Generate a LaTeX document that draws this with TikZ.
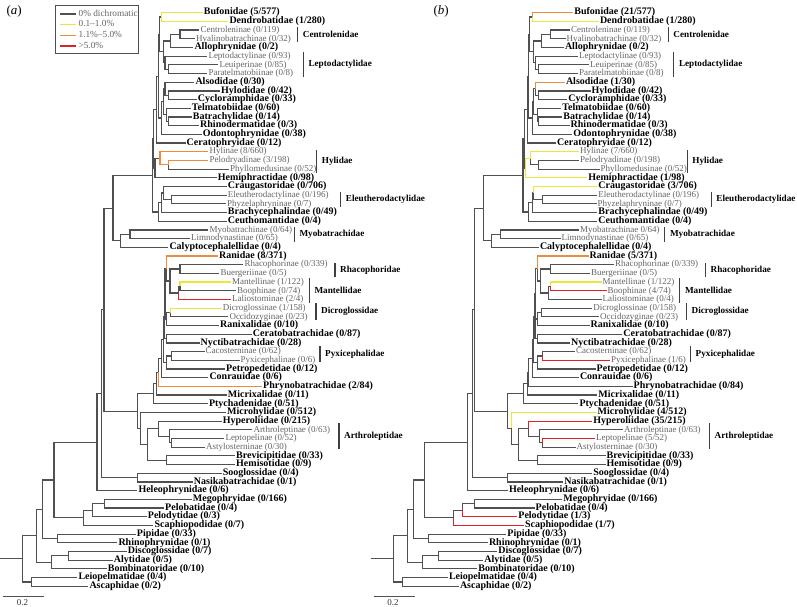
\documentclass[tikz,border=0pt]{standalone}
\usepackage{fontspec}
\setmainfont{Liberation Serif}
\usetikzlibrary{calc}

\definecolor{brgrey}{RGB}{80,80,80}
\definecolor{subgrey}{RGB}{100,100,100}
\definecolor{yel}{RGB}{236,230,60}
\definecolor{org}{RGB}{238,140,60}
\definecolor{rd}{RGB}{222,35,40}

% clade{name}{x}{child}{child}: node halfway between its two children
\newcommand\clade[4]{\path let \p1=(#3), \p2=(#4) in coordinate (#1) at (#2,{0.5*(\y1+\y2)});}

% one panel of the family tree, #1 = a or b
\newcommand\frogtree[1]{%
  % tips
  \foreach \nm/\lx/\st/\lab/\ca/\cb/\tot [count=\i from 0] in {
    bufo/202.7/fam/Bufonidae/5/21/577,
    dendro/228.3/fam/Dendrobatidae/1/1/280,
    centrolen/199.3/sub/Centroleninae/0/0/119,
    hyalino/195/sub/Hyalinobatrachinae/0/0/32,
    alloph/193.3/fam/Allophrynidae/0/0/2,
    leptodac/207.3/sub/Leptodactylinae/0/0/93,
    leuip/218.3/sub/Leuiperinae/0/0/85,
    paratel/207.3/sub/Paratelmatobiinae/0/0/8,
    alsod/194.3/fam/Alsodidae/0/1/30,
    hylod/220/fam/Hylodidae/0/0/42,
    cyclor/196.7/fam/Cycloramphidae/0/0/33,
    telmat/190.7/fam/Telmatobiidae/0/0/60,
    batrach/191.7/fam/Batrachylidae/0/0/14,
    rhinod/199/fam/Rhinodermatidae/0/0/3,
    odonto/201.7/fam/Odontophrynidae/0/0/38,
    cerato/185.5/fam/Ceratophryidae/0/0/12,
    hylin/208.3/sub/Hylinae/8/7/660,
    pelodr/208.3/sub/Pelodryadinae/3/0/198,
    phyllo/229/sub/Phyllomedusinae/0/0/52,
    hemiph/216.7/fam/Hemiphractidae/0/1/98,
    craug/226.7/fam/Craugastoridae/0/3/706,
    eleuth/226.7/sub/Eleutherodactylinae/0/0/196,
    phyzel/226/sub/Phyzelaphryninae/0/0/7,
    brachy/226.7/fam/Brachycephalindae/0/0/49,
    ceuth/226.7/fam/Ceuthomantidae/0/0/4,
    myobat/208.3/sub/Myobatrachinae/0/-1/64,
    limno/190/sub/Limnodynastinae/0/0/65,
    calypto/168.3/fam/Calyptocephalellidae/0/0/4,
    ranid/218/fam/Ranidae/8/5/371,
    rhacoph/243.3/sub/Rhacophorinae/0/0/339,
    buerg/219.3/sub/Buergeriinae/0/0/5,
    mantel/231/sub/Mantellinae/1/1/122,
    booph/236/sub/Boophinae/0/4/74,
    lalios/231/sub/Laliostominae/2/0/4,
    dicro/221.7/sub/Dicroglossinae/1/0/158,
    occid/228.3/sub/Occidozyginae/0/0/23,
    ranix/219/fam/Ranixalidae/0/0/10,
    ceratob/251.7/fam/Ceratobatrachidae/0/0/87,
    nyctib/199.5/fam/Nyctibatrachidae/0/0/28,
    cacost/204.5/sub/Cacosterninae/0/0/62,
    pyxic/239.5/sub/Pyxicephalinae/0/1/6,
    petrop/225/fam/Petropedetidae/0/0/12,
    conra/208.3/fam/Conrauidae/0/0/6,
    phryno/262/fam/Phrynobatrachidae/2/0/84,
    micrix/226.7/fam/Micrixalidae/0/0/11,
    ptych/207.8/fam/Ptychadenidae/0/0/51,
    microh/226/fam/Microhylidae/0/4/512,
    hyperol/221.7/fam/Hyperoliidae/0/35/215,
    arthrol/252.3/sub/Arthroleptinae/0/0/63,
    leptop/224.3/sub/Leptopelinae/0/5/52,
    astyl/205/sub/Astylosterninae/0/0/30,
    brevic/235/fam/Brevicipitidae/0/0/33,
    hemis/235/fam/Hemisotidae/0/0/9,
    soogl/221.7/fam/Sooglossidae/0/0/4,
    nasik/192.7/fam/Nasikabatrachidae/0/0/1,
    heleo/137.3/fam/Heleophrynidae/0/0/6,
    megoph/191.7/fam/Megophryidae/0/0/166,
    pelob/164/fam/Pelobatidae/0/0/4,
    pelod/146.7/fam/Pelodytidae/0/1/3,
    scaph/153.3/fam/Scaphiopodidae/0/1/7,
    pipid/135.7/fam/Pipidae/0/0/33,
    rhinoph/117.3/fam/Rhinophrynidae/0/0/1,
    discog/126.7/fam/Discoglossidae/0/0/7,
    alyt/112.7/fam/Alytidae/0/0/5,
    bombin/106.7/fam/Bombinatoridae/0/0/10,
    leiop/77.3/fam/Leiopelmatidae/0/0/4,
    ascaph/88.3/fam/Ascaphidae/0/0/2}
  \node[\st] (#1-\nm) at (\lx,{12.7+8.69*\i})
    {\lab\ \ifx a#1(\ca\else\ifnum\cb<0 0\else(\cb\fi\fi/\tot)};
  % clades, children before parents
  \foreach \nm/\nx/\kida/\kidb in {
    bd/161.7/bufo/dendro, cen/180/centrolen/hyalino, ca/170.7/cen/alloph,
    lp/168.3/leuip/paratel, lep/165/leptodac/lp, cal/163.3/ca/lep,
    bdcal/159.3/bd/cal, hc/168.3/hylod/cyclor, ahc/165/alsod/hc,
    br/168.3/batrach/rhinod, tbr/166.7/telmat/br, at/163.3/ahc/tbr,
    ato/161.7/at/odonto, u1/158.3/bdcal/ato, u2/156.7/u1/cerato,
    pp/168.3/pelodr/phyllo, hyl/160/hylin/pp, hh/155/hyl/hemiph,
    upper/153.8/u2/hh, ep/171.7/eleuth/phyzel, cep/163.3/craug/ep,
    cepb/161.7/cep/brachy, terr/158.3/cepb/ceuth, core/152.5/upper/terr,
    myo/130/myobat/limno, mc/120.7/myo/calypto, hyloid/113/core/mc,
    rb/180/rhacoph/buerg, mb/180/mantel/booph, mant/178.3/mb/lalios,
    rm/170/rb/mant, rrm/166.7/ranid/rm, dico/170.7/dicro/occid,
    dr/166.7/dico/ranix, rgrp/165/rrm/dr, cn/166.7/ceratob/nyctib,
    na/164.5/rgrp/cn, cp/171.7/cacost/pyxic, pyp/166.7/cp/petrop,
    nb/163.3/na/pyp, nc/161.7/nb/conra, nd/158.3/nc/phryno,
    ne/156.7/nd/micrix, nf/153.3/ne/ptych, la/171.7/leptop/astyl,
    arth/169.3/arthrol/la, ha/158.3/hyperol/arth, bh/166.7/brevic/hemis,
    afro/147.7/ha/bh, ma/140.7/microh/afro, ranoid/137.3/nf/ma,
    hr/104/hyloid/ranoid, sn/137.3/soogl/nasik, hrs/101.7/hr/sn,
    neo/97/hrs/heleo, mpb/104.3/megoph/pelob, mpp/92.3/mpb/pelod,
    pelo/83.3/mpp/scaph, n3/54/neo/pelo, pip/57.7/pipid/rhinoph,
    n2/42.7/n3/pip, da/68.3/discog/alyt, alyto/51.7/da/bombin,
    n1/36.7/n2/alyto, lasc/31.7/leiop/ascaph, root/22.7/n1/lasc}
  {
    \clade{#1-\nm}{\nx}{#1-\kida}{#1-\kidb}
    \draw[br] (#1-\nm) |- (#1-\kida);
    \draw[br] (#1-\nm) |- (#1-\kidb);
  }
  \draw[br] (#1-root) -- ++(-22.7,0);
  % families with subfamilies
  \foreach \bx/\ya/\yb/\lab in {
    297.7/27.3/42.3/Centrolenidae, 303.3/51.7/77.3/Leptodactylidae,
    316.7/150/173/Hylidae, 340.7/191.7/206.7/Eleutherodactylidae,
    294.3/227/241.7/Myobatrachidae, 335/263.3/276.7/Rhacophoridae,
    309.3/278.3/303.3/Mantellidae, 316/303.3/320/Dicroglossidae,
    320/346/361.7/Pyxicephalidae, 339/423.3/449.3/Arthroleptidae}
  {
    \draw[bar] (\bx,\ya) -- (\bx,\yb);
    \node[grp] (#1-\lab) at (\bx+4,{(\ya+\yb)/2}) {\lab};
  }
  % scale
  \coordinate (#1-sc0) at (3,596);
  \coordinate (#1-sc1) at (44.3,596);
  \draw[br, line width=0.9pt] (#1-sc0) -- (#1-sc1);
  \node[anchor=center, text=black!80, font=\fontsize{9}{9}\selectfont] (#1-sclab) at (22.5,603) {0.2};
}

\begin{document}
\begin{tikzpicture}[
  x=1pt, y=-1pt,
  font=\fontsize{10}{11}\selectfont,
  br/.style={draw=brgrey, line width=1.2pt},
  bar/.style={draw=black!75, line width=1.1pt},
  fam/.style={anchor=west, inner xsep=1pt, inner ysep=0pt,
    text height=6.5pt, text depth=2pt, font=\fontsize{10}{11}\selectfont\bfseries},
  sub/.style={anchor=west, inner xsep=1pt, inner ysep=0pt,
    text height=6.5pt, text depth=2pt, text=subgrey, font=\fontsize{9}{11}\selectfont},
  grp/.style={fam, font=\fontsize{9.2}{11}\selectfont\bfseries}
]
\useasboundingbox (0,0) rectangle (797,607);

\frogtree{a}
\foreach \p/\kid/\col in {bd/bufo/yel, bd/dendro/yel, hyl/hylin/org, hyl/pp/org,
  pp/pelodr/org, rrm/ranid/org, mb/mantel/yel, mant/lalios/rd,
  dico/dicro/yel, nd/phryno/org}
  \draw[br, draw=\col] (a-\p) |- (a-\kid);

\begin{scope}[xshift=370.5pt]
\frogtree{b}
\foreach \p/\kid/\col in {bd/bufo/org, bd/dendro/yel, ahc/alsod/org, hh/hyl/yel,
  hh/hemiph/yel, hyl/hylin/yel, cep/craug/yel, rrm/ranid/org, mb/mantel/yel,
  mb/booph/rd, cp/pyxic/rd, ma/microh/yel, ha/hyperol/rd, la/leptop/rd,
  mpp/pelod/rd, pelo/scaph/rd}
  \draw[br, draw=\col] (b-\p) |- (b-\kid);
\end{scope}

% panel letters
\node[anchor=west, font=\fontsize{13}{13}\selectfont] (pa) at (3,11) {(\textit{a})};
\node[anchor=west, font=\fontsize{13}{13}\selectfont] (pb) at (430,11) {(\textit{b})};

% legend
\node[draw=brgrey, line width=0.9pt, anchor=north west,
  minimum width=82.7pt, minimum height=48.3pt] (legend) at (55,5) {};
\foreach \col/\txt [count=\k from 0] in {brgrey/0\% dichromatic,
  yel/0.1--1.0\%, org/1.1\%--5.0\%, rd/>5.0\%}
{
  \coordinate (key\k) at (60,{14+10.7*\k});
  \draw[br, draw=\col] (key\k) -- ++(16,0)
    node[sub, inner xsep=2pt, font=\fontsize{9.3}{11}\selectfont] (keytxt\k) {\txt};
}
\end{tikzpicture}
\end{document}
